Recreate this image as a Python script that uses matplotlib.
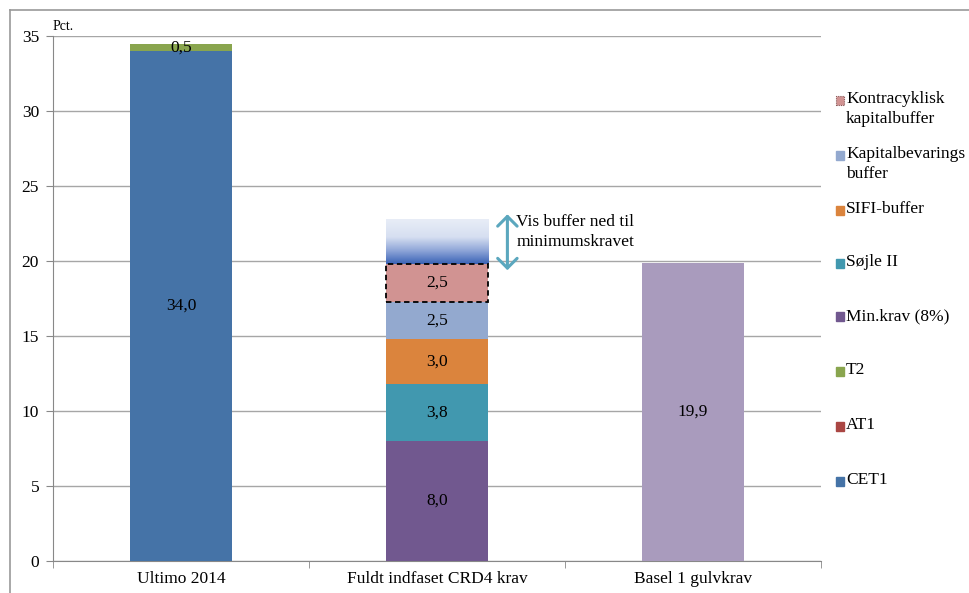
import numpy as np
import matplotlib
matplotlib.use("Agg")
import matplotlib.pyplot as plt
from matplotlib.patches import Rectangle, FancyArrowPatch
from matplotlib.colors import LinearSegmentedColormap

plt.rcParams['font.family'] = ['Liberation Serif', 'DejaVu Serif']

categories = ["Ultimo 2014", "Fuldt indfaset CRD4 krav", "Basel 1 gulvkrav"]
series_names = ["CET1", "AT1", "T2", "Min.krav (8%)", "Søjle II", "SIFI-buffer",
                "Kapitalbevarings\nbuffer", "Kontracyklisk\nkapitalbuffer"]
series_values = {
    "CET1":          [34.0, 0.0, 0.0],
    "AT1":           [0.0, 0.0, 0.0],
    "T2":            [0.5, 0.0, 0.0],
    "Min.krav (8%)": [0.0, 8.0, 0.0],
    "Søjle II":      [0.0, 3.8, 0.0],
    "SIFI-buffer":   [0.0, 3.0, 0.0],
    "Kapitalbevarings\nbuffer": [0.0, 2.5, 0.0],
    "Kontracyklisk\nkapitalbuffer": [0.0, 2.5, 0.0],
}
series_colors = ["#4573A7", "#AA4643", "#89A54E", "#71588F", "#4198AF",
                 "#DB843D", "#93A9CF", "#D19392"]
basel_floor = [0.0, 0.0, 19.9]
basel_color = "#A99BBD"
buffer_top = 22.8
yticks = [0, 5, 10, 15, 20, 25, 30, 35]

FS = 12.5
fig = plt.figure(figsize=(9.70, 5.93), dpi=100)
ax = fig.add_axes([53/970, 1 - 561/593, (821-53)/970, (561-36)/593])

x = np.arange(len(categories))
width = 0.4
bottom = np.zeros(len(categories))
for name, col in zip(series_names, series_colors):
    vals = np.array(series_values[name])
    ax.bar(x, vals, width, bottom=bottom, color=col, zorder=3, label=name)
    for xi, v, bt in zip(x, vals, bottom):
        if v > 0:
            ax.text(xi, bt + v / 2, f"{v:.1f}".replace(".", ","), ha="center",
                    va="center", fontsize=FS, zorder=5)
    bottom = bottom + vals

ax.bar(x, basel_floor, width, color=basel_color, zorder=3)
ax.text(x[2], basel_floor[2] / 2, f"{basel_floor[2]:.1f}".replace(".", ","),
        ha="center", va="center", fontsize=FS, zorder=5)

# dashed rectangle around countercyclical buffer
crd_top = bottom[1]
kc = series_values["Kontracyklisk\nkapitalbuffer"][1]
ax.add_patch(Rectangle((x[1] - width/2, crd_top - kc), width, kc, fill=False,
                       ls=(0, (3, 2)), lw=1.3, ec="black", zorder=6))

# gradient buffer box
cmap = LinearSegmentedColormap.from_list(
    "g", [(0, "#3A63B6"), (0.3, "#8FA6D8"), (0.6, "#D6DFF1"), (1, "#E8EDF7")])
grad = np.linspace(0, 1, 200).reshape(-1, 1)
ax.imshow(grad, cmap=cmap, aspect="auto", origin="lower",
          extent=(x[1] - width/2, x[1] + width/2, crd_top, buffer_top), zorder=3)

# arrow and annotation
ax.add_patch(FancyArrowPatch((x[1] + 0.275, 19.2), (x[1] + 0.275, 23.3),
                             arrowstyle="<->,head_length=7,head_width=7",
                             color="#5BA7BE", lw=2.2, zorder=6, mutation_scale=1))
ax.text(x[1] + 0.31, 23.1, "Vis buffer ned til\nminimumskravet", ha="left", va="top",
        fontsize=FS, linespacing=1.3, zorder=6)

ax.set_xlim(-0.5, 2.5)
ax.set_ylim(0, 35)
ax.set_yticks(yticks)
ax.set_yticklabels([str(t) for t in yticks], fontsize=FS)
ax.set_xticks(x)
ax.set_xticklabels(categories, fontsize=FS)
ax.set_xticks([-0.5, 0.5, 1.5, 2.5], minor=True)
ax.tick_params(axis="x", which="major", length=0, pad=7)
ax.tick_params(axis="x", which="minor", length=5, color="#888888", direction="out")
ax.tick_params(axis="y", length=5, color="#888888", direction="out", pad=5)
ax.grid(axis="y", color="#A6A6A6", lw=1, zorder=0)
for s in ["top", "right"]:
    ax.spines[s].set_visible(False)
for s in ["left", "bottom"]:
    ax.spines[s].set_color("#888888")

ax.text(0.0, 1.005, "Pct.", transform=ax.transAxes, fontsize=10, ha="left", va="bottom")

# legend (manual)
leg_labels = list(reversed(series_names))
leg_colors = list(reversed(series_colors))
leg_y = [100, 155, 210, 263, 317, 371, 426, 481]
for i, (lab, col, py) in enumerate(zip(leg_labels, leg_colors, leg_y)):
    fy = 1 - py / 593
    if i == 0:
        fig.patches.append(Rectangle((836/970, fy - 4.5/593), 8/970, 9/593, fc=col,
                                     ec="#8A5A5A", ls=(0, (1, 1)), lw=0.8,
                                     transform=fig.transFigure, figure=fig))
    else:
        fig.patches.append(Rectangle((836/970, fy - 4.5/593), 8/970, 9/593, color=col,
                                     transform=fig.transFigure, figure=fig))
    fig.text(846/970, fy + 9/593, lab, fontsize=FS, ha="left", va="top", linespacing=1.35)

# outer chart border
fig.add_artist(plt.Line2D([10/970, 10/970], [0, 1 - 10/593], color="#999999", lw=1.2,
                          transform=fig.transFigure))
fig.add_artist(plt.Line2D([10/970, 1], [1 - 10/593, 1 - 10/593], color="#999999", lw=1.2,
                          transform=fig.transFigure))

fig.savefig("out.png", dpi=100)
